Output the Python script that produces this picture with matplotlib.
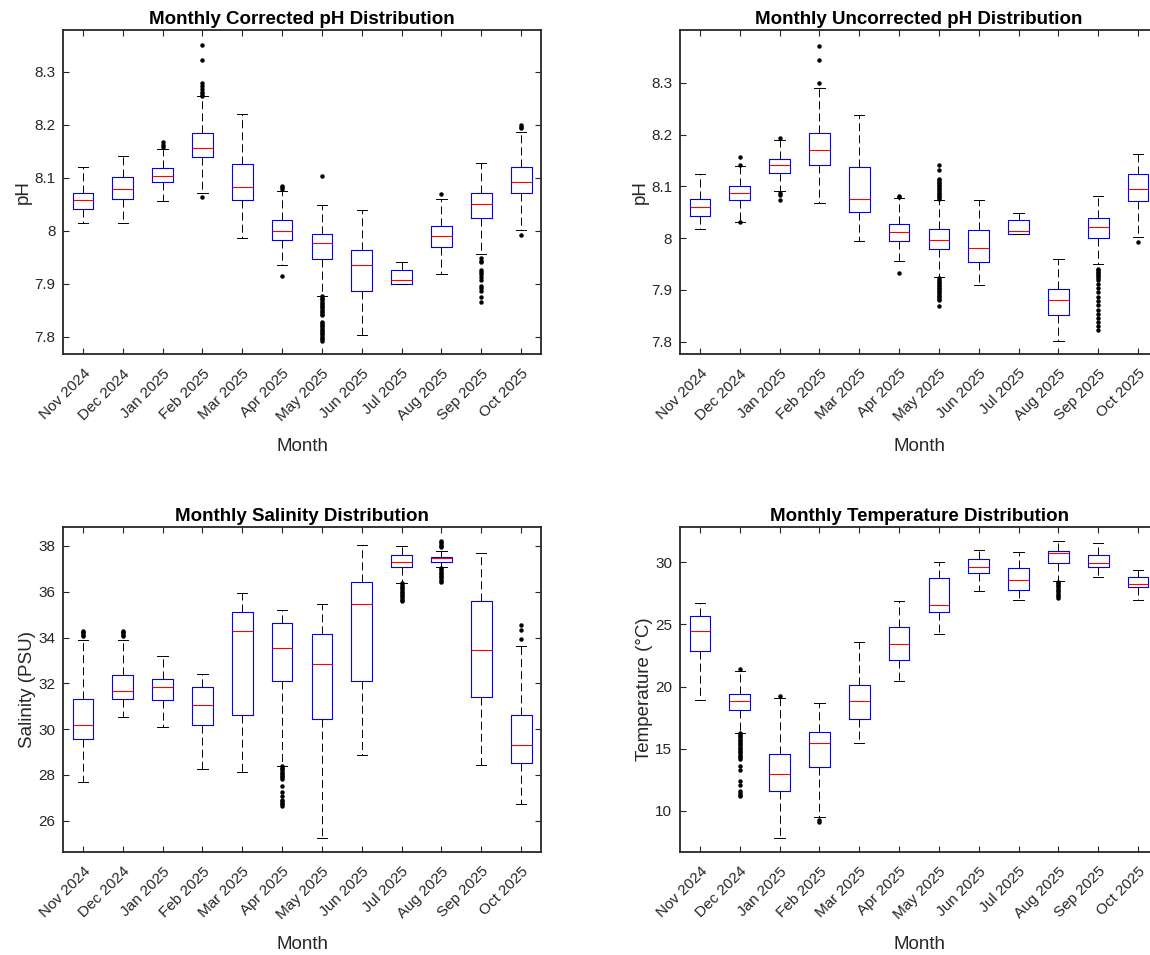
import matplotlib
matplotlib.use('Agg')
import matplotlib.pyplot as plt
from matplotlib.ticker import FormatStrFormatter

plt.rcParams['font.family'] = ['Liberation Sans', 'DejaVu Sans']
plt.rcParams['lines.scale_dashes'] = False

months = ['Nov 2024', 'Dec 2024', 'Jan 2025', 'Feb 2025', 'Mar 2025', 'Apr 2025',
          'May 2025', 'Jun 2025', 'Jul 2025', 'Aug 2025', 'Sep 2025', 'Oct 2025']

# corrected pH
ph_c_lo = [8.014, 8.014, 8.056, 8.072, 7.987, 7.936, 7.877, 7.803, 7.900, 7.919, 7.955, 8.002]
ph_c_q1 = [8.040, 8.060, 8.091, 8.139, 8.058, 7.982, 7.946, 7.886, 7.900, 7.969, 8.023, 8.072]
ph_c_med = [8.057, 8.079, 8.104, 8.156, 8.083, 8.000, 7.976, 7.935, 7.906, 7.989, 8.050, 8.091]
ph_c_q3 = [8.072, 8.101, 8.118, 8.185, 8.126, 8.020, 7.993, 7.964, 7.926, 8.009, 8.072, 8.121]
ph_c_hi = [8.120, 8.141, 8.155, 8.255, 8.220, 8.075, 8.048, 8.039, 7.940, 8.060, 8.127, 8.186]
ph_c_out = [
    [],
    [],
    [8.167, 8.162, 8.158],
    [8.350, 8.323, 8.278, 8.273, 8.267, 8.261, 8.258, 8.254, 8.063],
    [],
    [8.085, 8.082, 8.079, 7.914],
    [8.104, 7.876, 7.873, 7.870, 7.867, 7.864, 7.861, 7.858, 7.855, 7.852, 7.849, 7.846,
     7.843, 7.840, 7.828, 7.825, 7.822, 7.819, 7.816, 7.813, 7.810, 7.807, 7.804, 7.801,
     7.798, 7.795, 7.792],
    [],
    [],
    [8.070],
    [7.948, 7.943, 7.940, 7.926, 7.921, 7.918, 7.913, 7.906, 7.896, 7.891, 7.886, 7.875, 7.866],
    [8.199, 8.196, 8.193, 7.992],
]

# uncorrected pH
ph_u_lo = [8.017, 8.032, 8.090, 8.068, 7.995, 7.955, 7.925, 7.910, 8.007, 7.802, 7.949, 8.002]
ph_u_q1 = [8.043, 8.073, 8.126, 8.141, 8.051, 7.995, 7.979, 7.953, 8.007, 7.852, 8.000, 8.071]
ph_u_med = [8.060, 8.088, 8.141, 8.170, 8.076, 8.011, 7.996, 7.981, 8.013, 7.880, 8.021, 8.094]
ph_u_q3 = [8.076, 8.101, 8.152, 8.203, 8.137, 8.028, 8.017, 8.016, 8.034, 7.901, 8.039, 8.123]
ph_u_hi = [8.123, 8.139, 8.189, 8.290, 8.238, 8.077, 8.073, 8.073, 8.049, 7.960, 8.081, 8.163]
ph_u_out = [
    [],
    [8.157, 8.142, 8.032],
    [8.194, 8.087, 8.084, 8.074],
    [8.372, 8.344, 8.299],
    [],
    [8.082, 8.080, 7.933],
    [8.141, 8.131, 8.115, 8.112, 8.109, 8.106, 8.103, 8.100, 8.097, 8.094, 8.091, 8.088,
     8.085, 8.082, 8.079, 8.076, 7.922, 7.919, 7.916, 7.913, 7.910, 7.907, 7.904, 7.901,
     7.898, 7.895, 7.892, 7.889, 7.886, 7.883, 7.880, 7.869],
    [],
    [],
    [],
    [7.941, 7.938, 7.935, 7.932, 7.929, 7.926, 7.923, 7.919, 7.911, 7.903, 7.895, 7.887,
     7.878, 7.870, 7.862, 7.854, 7.846, 7.838, 7.830, 7.822],
    [7.993],
]

# salinity
sal_lo = [27.69, 30.54, 30.11, 28.24, 28.13, 28.40, 25.24, 28.88, 36.38, 37.08, 28.42, 26.73]
sal_q1 = [29.58, 31.32, 31.27, 30.17, 30.60, 32.12, 30.43, 32.12, 37.08, 37.30, 31.42, 28.52]
sal_med = [30.19, 31.65, 31.85, 31.05, 34.27, 33.53, 32.84, 35.45, 37.29, 37.49, 33.46, 29.32]
sal_q3 = [31.33, 32.35, 32.18, 31.83, 35.13, 34.62, 34.17, 36.44, 37.61, 37.52, 35.61, 30.63]
sal_hi = [33.88, 33.88, 33.18, 32.42, 35.93, 35.22, 35.47, 38.04, 38.01, 37.77, 37.71, 33.62]
sal_out = [
    [34.30, 34.24, 34.18, 34.12, 34.06],
    [34.30, 34.24, 34.18, 34.12, 34.05],
    [],
    [],
    [],
    [28.38, 28.31, 28.24, 28.17, 28.10, 28.03, 27.96, 27.89, 27.82, 27.50, 27.27, 27.08,
     26.92, 26.85, 26.78, 26.71, 26.64],
    [],
    [],
    [36.36, 36.29, 36.22, 36.15, 36.08, 36.01, 35.94, 35.87, 35.80, 35.73, 35.66, 35.59],
    [38.23, 38.16, 38.09, 38.02, 37.96, 37.05, 36.98, 36.91, 36.84, 36.77, 36.70, 36.63,
     36.56, 36.49, 36.44],
    [],
    [34.55, 34.33, 33.92],
]

# temperature
temp_lo = [18.88, 16.27, 7.79, 9.49, 15.46, 20.47, 24.24, 27.71, 26.99, 28.47, 28.84, 26.96]
temp_q1 = [22.84, 18.10, 11.62, 13.50, 17.35, 22.14, 26.04, 29.11, 27.74, 29.97, 29.65, 27.98]
temp_med = [24.45, 18.83, 12.96, 15.44, 18.83, 23.41, 26.53, 29.62, 28.55, 30.75, 29.97, 28.25]
temp_q3 = [25.72, 19.39, 14.58, 16.30, 20.14, 24.80, 28.71, 30.27, 29.57, 30.94, 30.62, 28.79]
temp_hi = [26.69, 21.22, 19.10, 18.69, 23.59, 26.85, 30.03, 31.02, 30.86, 31.70, 31.59, 29.38]
temp_out = [
    [],
    [21.44, 16.25, 16.12, 15.99, 15.86, 15.73, 15.60, 15.47, 15.34, 15.21, 15.08, 14.95,
     14.82, 14.69, 14.56, 14.43, 14.30, 14.17, 13.58, 13.31, 12.37, 12.10, 11.56, 11.43,
     11.30, 11.17],
    [19.21],
    [9.27, 9.06],
    [],
    [],
    [],
    [],
    [],
    [28.45, 28.32, 28.19, 28.06, 27.93, 27.80, 27.67, 27.54, 27.41, 27.28, 27.15],
    [],
    [],
]

EDGE = '#262626'


def draw_panel(ax, lo, q1, med, q3, hi, outl, title, ylabel, ylim, yticks, fmt):
    stats = []
    for i in range(len(months)):
        stats.append({'whislo': lo[i], 'q1': q1[i], 'med': med[i], 'q3': q3[i],
                      'whishi': hi[i], 'fliers': outl[i]})
    ax.bxp(stats, positions=range(1, len(months) + 1), widths=0.52,
           boxprops=dict(color='#0000ff', lw=0.8),
           medianprops=dict(color='#ff0000', lw=0.8),
           whiskerprops=dict(color='black', lw=0.7, linestyle=(0, (5.8, 2.9))),
           capprops=dict(color='black', lw=0.7),
           flierprops=dict(marker='o', markersize=2.2, markerfacecolor='black',
                           markeredgecolor='black', linestyle='none'))
    ax.set_xlim(0.5, len(months) + 0.5)
    ax.set_ylim(ylim)
    ax.set_yticks(yticks)
    ax.yaxis.set_major_formatter(FormatStrFormatter(fmt))
    ax.set_xticks(range(1, len(months) + 1))
    ax.set_xticklabels(months, rotation=45, ha='right', rotation_mode='anchor')
    ax.tick_params(direction='in', top=True, right=True, length=4, width=0.8,
                   colors=EDGE, labelsize=11, labelcolor=EDGE)
    ax.tick_params(axis='x', pad=9)
    ax.tick_params(axis='y', pad=5.5)
    for s in ax.spines.values():
        s.set_linewidth(1.3)
        s.set_color(EDGE)
    ax.set_title(title, fontsize=13.5, fontweight='bold', pad=4)
    ax.set_xlabel('Month', fontsize=13.5, color=EDGE, labelpad=10)
    ax.set_ylabel(ylabel, fontsize=13.5, color=EDGE, labelpad=2)


fig = plt.figure(figsize=(11.5, 9.55), dpi=100)
ax1 = fig.add_axes([0.0548, 0.6293, 0.4157, 0.3393])
ax2 = fig.add_axes([0.5913, 0.6293, 0.4157, 0.3393])
ax3 = fig.add_axes([0.0548, 0.1079, 0.4157, 0.3403])
ax4 = fig.add_axes([0.5913, 0.1079, 0.4157, 0.3403])

draw_panel(ax1, ph_c_lo, ph_c_q1, ph_c_med, ph_c_q3, ph_c_hi, ph_c_out,
           'Monthly Corrected pH Distribution', 'pH', (7.767, 8.379),
           [7.8, 7.9, 8.0, 8.1, 8.2, 8.3], '%g')
draw_panel(ax2, ph_u_lo, ph_u_q1, ph_u_med, ph_u_q3, ph_u_hi, ph_u_out,
           'Monthly Uncorrected pH Distribution', 'pH', (7.776, 8.402),
           [7.8, 7.9, 8.0, 8.1, 8.2, 8.3], '%g')
draw_panel(ax3, sal_lo, sal_q1, sal_med, sal_q3, sal_hi, sal_out,
           'Monthly Salinity Distribution', 'Salinity (PSU)', (24.63, 38.83),
           [26, 28, 30, 32, 34, 36, 38], '%g')
draw_panel(ax4, temp_lo, temp_q1, temp_med, temp_q3, temp_hi, temp_out,
           'Monthly Temperature Distribution', 'Temperature (°C)', (6.68, 32.85),
           [10, 15, 20, 25, 30], '%g')

fig.savefig('out.png', dpi=100)
